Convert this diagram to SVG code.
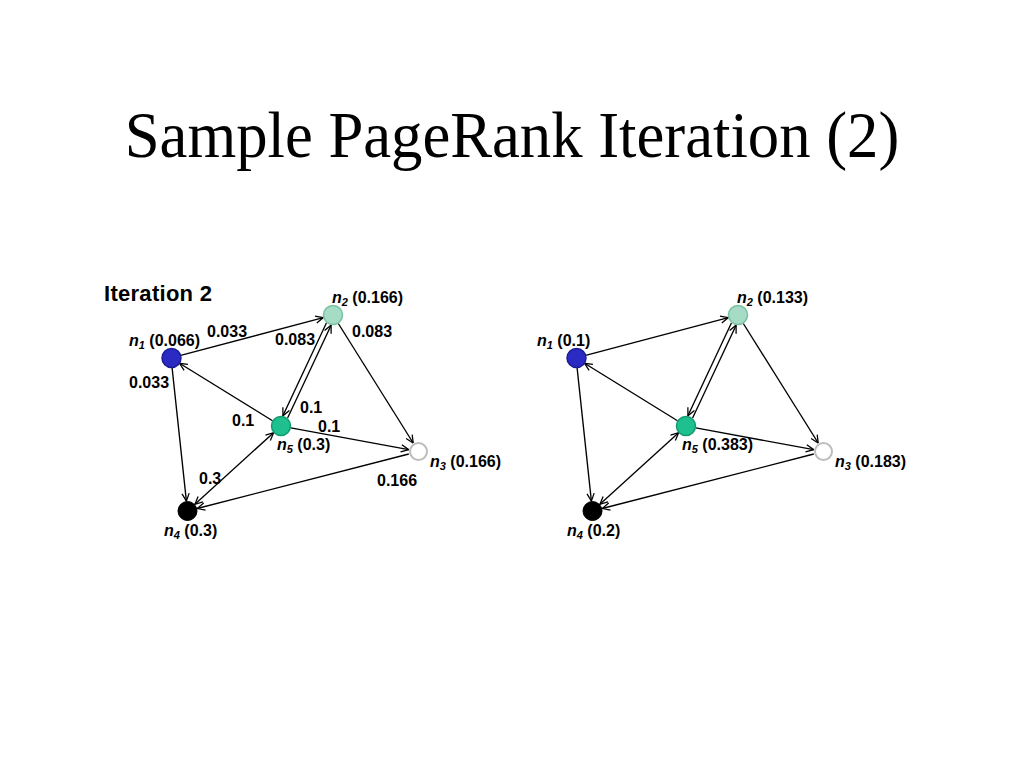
<svg xmlns="http://www.w3.org/2000/svg" width="1024" height="768" viewBox="0 0 1024 768">
<style>
.title{font-family:"Liberation Serif","Times New Roman",serif;font-size:62.7px;fill:#000}
.lbl{font-family:"Liberation Sans",Arial,sans-serif;font-size:16px;font-weight:bold;fill:#000}
.hdr{font-family:"Liberation Sans",Arial,sans-serif;font-size:22px;font-weight:bold;fill:#000}
.it{font-style:italic}
.sub{font-style:italic;font-size:11px}
.edge{fill:none;stroke:#000;stroke-width:1.35;marker-end:url(#ah)}
.both{marker-start:url(#ah)}
.c1{fill:#2b2bc4;stroke:#1c1c96;stroke-width:1.5}
.c2{fill:#a6dcc6;stroke:#78c2a2;stroke-width:1.6}
.c3{fill:#fff;stroke:#bdbdbd;stroke-width:2}
.c4{fill:#000;stroke:#000;stroke-width:1}
.c5{fill:#1dc08e;stroke:#119a6e;stroke-width:1.5}
</style>
<defs>
<marker id="ah" viewBox="0 0 10 10" refX="9.5" refY="5" markerWidth="9" markerHeight="9" markerUnits="userSpaceOnUse" orient="auto-start-reverse">
<path d="M1,1 L9.5,5 L1,9" fill="none" stroke="#000" stroke-width="1.4"/>
</marker>
<g id="edgeset">
<line class="edge" x1="180.7" y1="355.4" x2="323.3" y2="317.6"/>
<line class="edge" x1="172.1" y1="367.9" x2="186.4" y2="501.1"/>
<line class="edge" x1="272.5" y1="420.7" x2="179.5" y2="363.3"/>
<line class="edge" x1="287.6" y1="418.0" x2="331.1" y2="325.2"/>
<line class="edge" x1="326.4" y1="323.0" x2="282.9" y2="415.8"/>
<line class="edge" x1="338.3" y1="323.5" x2="413.2" y2="443.0"/>
<line class="edge" x1="290.8" y1="427.8" x2="408.7" y2="449.7"/>
<line class="edge" x1="408.8" y1="454.0" x2="197.2" y2="508.5"/>
<line class="edge both" x1="194.9" y1="504.3" x2="273.6" y2="432.7"/>
</g>
</defs>
<text class="title" transform="translate(512,157) scale(1,1.05)" text-anchor="middle">Sample PageRank Iteration (2)</text>

<g id="connectors">
<use href="#edgeset"/>
<use href="#edgeset" transform="translate(405,0)"/>
</g>

<g id="graph1">
<text class="hdr" x="104" y="301" textLength="108">Iteration 2</text>
<g id="g1-n1"><circle class="c1" cx="171.5" cy="358" r="9.5"/><text class="lbl" x="129" y="346"><tspan class="it">n</tspan><tspan class="sub" dy="3">1</tspan><tspan dy="-3"> (0.066)</tspan></text></g>
<g id="g1-n2"><circle class="c2" cx="333" cy="315" r="9.5"/><text class="lbl" x="332" y="303"><tspan class="it">n</tspan><tspan class="sub" dy="3">2</tspan><tspan dy="-3"> (0.166)</tspan></text></g>
<g id="g1-n3"><circle class="c3" cx="418.5" cy="451.5" r="8.5"/><text class="lbl" x="430" y="467"><tspan class="it">n</tspan><tspan class="sub" dy="3">3</tspan><tspan dy="-3"> (0.166)</tspan></text></g>
<g id="g1-n4"><circle class="c4" cx="187.5" cy="511" r="9.5"/><text class="lbl" x="164" y="536"><tspan class="it">n</tspan><tspan class="sub" dy="3">4</tspan><tspan dy="-3"> (0.3)</tspan></text></g>
<g id="g1-n5"><circle class="c5" cx="281" cy="426" r="9.5"/><text class="lbl" x="277" y="450"><tspan class="it">n</tspan><tspan class="sub" dy="3">5</tspan><tspan dy="-3"> (0.3)</tspan></text></g>
<g id="g1-weights">
<text class="lbl" x="207" y="337">0.033</text>
<text class="lbl" x="129" y="388">0.033</text>
<text class="lbl" x="275" y="345">0.083</text>
<text class="lbl" x="352" y="337">0.083</text>
<text class="lbl" x="300" y="413">0.1</text>
<text class="lbl" x="232" y="426">0.1</text>
<text class="lbl" x="318" y="432">0.1</text>
<text class="lbl" x="199" y="484">0.3</text>
<text class="lbl" x="377" y="486">0.166</text>
</g>
</g>

<g id="graph2">
<g id="g2-n1"><circle class="c1" cx="576.5" cy="358" r="9.5"/><text class="lbl" x="537" y="346"><tspan class="it">n</tspan><tspan class="sub" dy="3">1</tspan><tspan dy="-3"> (0.1)</tspan></text></g>
<g id="g2-n2"><circle class="c2" cx="738" cy="315" r="9.5"/><text class="lbl" x="737" y="303"><tspan class="it">n</tspan><tspan class="sub" dy="3">2</tspan><tspan dy="-3"> (0.133)</tspan></text></g>
<g id="g2-n3"><circle class="c3" cx="823.5" cy="451.5" r="8.5"/><text class="lbl" x="835" y="467"><tspan class="it">n</tspan><tspan class="sub" dy="3">3</tspan><tspan dy="-3"> (0.183)</tspan></text></g>
<g id="g2-n4"><circle class="c4" cx="592.5" cy="511" r="9.5"/><text class="lbl" x="567" y="536"><tspan class="it">n</tspan><tspan class="sub" dy="3">4</tspan><tspan dy="-3"> (0.2)</tspan></text></g>
<g id="g2-n5"><circle class="c5" cx="686" cy="426" r="9.5"/><text class="lbl" x="682" y="450"><tspan class="it">n</tspan><tspan class="sub" dy="3">5</tspan><tspan dy="-3"> (0.383)</tspan></text></g>
</g>
</svg>
